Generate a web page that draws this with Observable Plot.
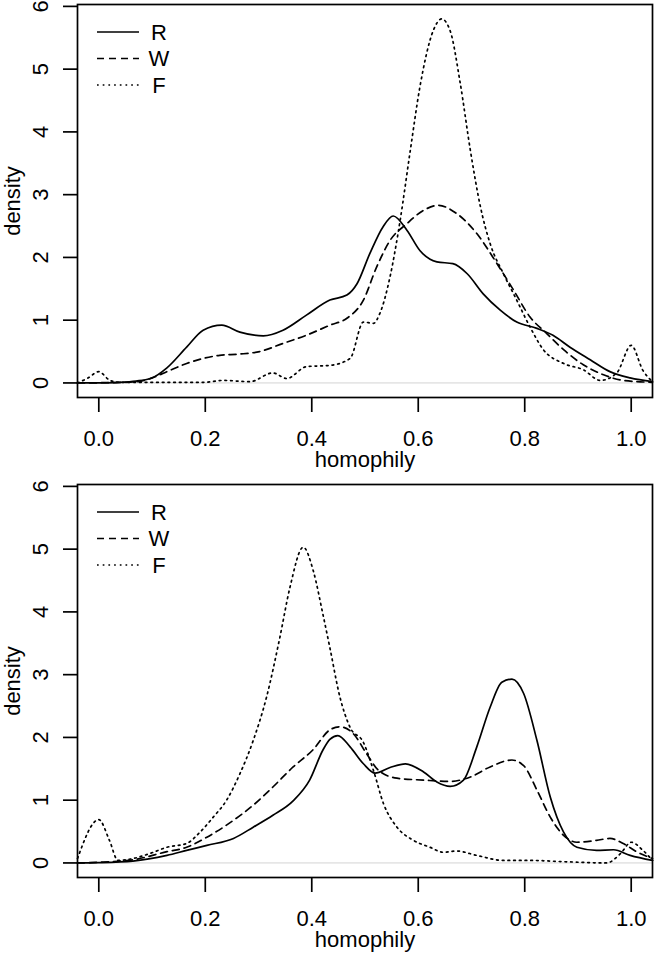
<!DOCTYPE html>
<html>
<head>
<meta charset="utf-8">
<script src="https://cdn.jsdelivr.net/npm/d3@7"></script>
<script src="https://cdn.jsdelivr.net/npm/@observablehq/plot@0.6"></script>
<style>
  html, body { margin: 0; padding: 0; background: white; }
  #charts svg { display: block; }
  #charts svg text { font-family: 'Liberation Sans', Arial, Helvetica, sans-serif !important; }
</style>
</head>
<body>
<div id="charts"></div>
<script>
// ---- axis ticks ----
const xTicks = [0, 0.2, 0.4, 0.6, 0.8, 1.0];
const yTicks = [0, 1, 2, 3, 4, 5, 6];
const xDomain = [-0.04, 1.04];
const yDomain = [-0.232, 6.03];
const seriesNames = ["R", "W", "F"];
const xLabel = "homophily";
const yLabel = "density";

// ---- top panel ----
const top_R_x = [-0.04, 0.0, 0.04, 0.07, 0.1, 0.128, 0.165, 0.196, 0.231, 0.265, 0.309, 0.346, 0.39, 0.434, 0.466, 0.485, 0.509, 0.534, 0.553, 0.579, 0.603, 0.635, 0.665, 0.692, 0.722, 0.754, 0.785, 0.823, 0.853, 0.885, 0.923, 0.96, 0.998, 1.04];
const top_R_y = [0, 0.002, 0.01, 0.03, 0.08, 0.24, 0.57, 0.84, 0.92, 0.81, 0.75, 0.84, 1.08, 1.32, 1.40, 1.58, 2.06, 2.49, 2.66, 2.43, 2.11, 1.93, 1.90, 1.74, 1.42, 1.16, 0.97, 0.87, 0.76, 0.57, 0.37, 0.18, 0.08, 0.02];

const top_W_x = [-0.04, 0.0, 0.05, 0.08, 0.1, 0.128, 0.165, 0.196, 0.227, 0.265, 0.302, 0.346, 0.39, 0.434, 0.466, 0.497, 0.522, 0.547, 0.579, 0.61, 0.638, 0.672, 0.71, 0.748, 0.779, 0.81, 0.841, 0.873, 0.91, 0.948, 0.985, 1.04];
const top_W_y = [0, 0.003, 0.01, 0.03, 0.08, 0.18, 0.31, 0.39, 0.44, 0.46, 0.50, 0.63, 0.76, 0.92, 1.03, 1.32, 1.85, 2.27, 2.54, 2.75, 2.83, 2.70, 2.38, 1.90, 1.48, 1.05, 0.79, 0.53, 0.29, 0.13, 0.04, 0.01];

const top_F_x = [-0.04, -0.02, 0.0, 0.021, 0.04, 0.1, 0.196, 0.234, 0.284, 0.327, 0.353, 0.39, 0.434, 0.472, 0.497, 0.516, 0.528, 0.547, 0.566, 0.585, 0.603, 0.628, 0.644, 0.66, 0.679, 0.698, 0.717, 0.735, 0.76, 0.785, 0.81, 0.835, 0.873, 0.91, 0.942, 0.973, 1.0, 1.022, 1.04];
const top_F_y = [0, 0.08, 0.18, 0.04, 0.01, 0.01, 0.01, 0.04, 0.02, 0.16, 0.07, 0.26, 0.28, 0.39, 0.97, 0.95, 1.11, 1.69, 2.59, 3.70, 4.71, 5.61, 5.80, 5.61, 4.77, 3.70, 2.80, 2.22, 1.74, 1.32, 0.89, 0.53, 0.31, 0.21, 0.04, 0.16, 0.60, 0.20, 0.02];

// ---- bottom panel ----
const bot_R_x = [-0.04, 0.0, 0.064, 0.128, 0.165, 0.203, 0.253, 0.29, 0.327, 0.365, 0.396, 0.421, 0.434, 0.449, 0.472, 0.497, 0.519, 0.547, 0.576, 0.61, 0.635, 0.66, 0.685, 0.71, 0.735, 0.757, 0.776, 0.798, 0.823, 0.848, 0.873, 0.898, 0.935, 0.967, 0.998, 1.04];
const bot_R_y = [0, 0.005, 0.03, 0.12, 0.20, 0.28, 0.39, 0.57, 0.76, 0.99, 1.32, 1.80, 1.97, 2.03, 1.85, 1.58, 1.43, 1.52, 1.58, 1.45, 1.29, 1.22, 1.32, 1.85, 2.48, 2.88, 2.93, 2.70, 1.95, 1.05, 0.49, 0.25, 0.20, 0.21, 0.12, 0.04];

const bot_W_x = [-0.04, 0.0, 0.064, 0.128, 0.165, 0.203, 0.253, 0.29, 0.327, 0.365, 0.402, 0.434, 0.453, 0.478, 0.503, 0.525, 0.56, 0.61, 0.66, 0.698, 0.735, 0.776, 0.798, 0.823, 0.848, 0.873, 0.898, 0.935, 0.96, 0.985, 1.01, 1.04];
const bot_W_y = [0, 0.01, 0.05, 0.18, 0.25, 0.41, 0.68, 0.92, 1.21, 1.53, 1.80, 2.12, 2.17, 2.06, 1.74, 1.48, 1.35, 1.32, 1.30, 1.37, 1.53, 1.64, 1.55, 1.16, 0.73, 0.44, 0.33, 0.36, 0.39, 0.31, 0.18, 0.07];

const bot_F_x = [-0.04, 0.0, 0.02, 0.036, 0.064, 0.096, 0.128, 0.165, 0.19, 0.215, 0.24, 0.265, 0.29, 0.315, 0.34, 0.359, 0.384, 0.403, 0.421, 0.434, 0.453, 0.472, 0.497, 0.516, 0.535, 0.56, 0.591, 0.622, 0.647, 0.672, 0.71, 0.76, 0.81, 0.873, 0.954, 0.98, 1.0, 1.022, 1.04];
const bot_F_y = [0.07, 0.69, 0.36, 0.04, 0.07, 0.15, 0.25, 0.31, 0.49, 0.73, 1.00, 1.42, 1.95, 2.64, 3.59, 4.39, 5.03, 4.65, 3.96, 3.43, 2.64, 2.16, 1.92, 1.47, 0.94, 0.57, 0.36, 0.25, 0.17, 0.19, 0.12, 0.04, 0.04, 0.02, 0.0, 0.15, 0.33, 0.20, 0.04];

// ---- styles ----
const FONT = "'Liberation Sans', Arial, Helvetica, sans-serif";
const FS = 22;
const LW = 1.7;
const dashes = { R: null, W: "7,5", F: "1.7,4" };

function toRows(xs, ys) { return xs.map((x, i) => ({ x, y: ys[i] })); }

function panel(sets) {
  const lineMarks = seriesNames.map(name =>
    Plot.line(toRows(sets[name][0], sets[name][1]), {
      x: "x", y: "y", stroke: "black", strokeWidth: LW,
      strokeDasharray: dashes[name] || undefined, curve: "monotone-x"
    })
  );
  const svg = Plot.plot({
    width: 655, height: 480,
    marginLeft: 77, marginRight: 3, marginTop: 4, marginBottom: 83,
    x: { domain: xDomain, label: null },
    y: { domain: yDomain, label: null },
    style: { fontFamily: FONT, fontSize: FS + "px", color: "black", background: "white", overflow: "visible" },
    marks: [
      Plot.ruleY([0], { stroke: "#c8c8c8", strokeWidth: 0.8 }),
      ...lineMarks,
      Plot.frame({ stroke: "black", strokeWidth: LW }),
      Plot.axisX({ ticks: xTicks, tickSize: 15, tickPadding: 18, tickFormat: d3.format(".1f"), strokeWidth: LW, label: null, fontSize: FS }),
      Plot.axisY({ ticks: yTicks, tickSize: 14, tickPadding: 16, tickRotate: -90, tickFormat: d3.format("d"), strokeWidth: LW, label: null, fontSize: FS }),
      Plot.text([xLabel], { frameAnchor: "bottom", textAnchor: "middle", dy: 69, fontSize: FS }),
      Plot.text([yLabel], { frameAnchor: "left", textAnchor: "middle", dx: -65, rotate: -90, fontSize: FS })
    ]
  });
  // legend (inside plot region, top-left)
  const g = d3.select(svg).append("g").attr("font-family", FONT).attr("font-size", FS);
  seriesNames.forEach((name, i) => {
    const yy = 32 + i * 26.5;
    g.append("line").attr("x1", 97).attr("x2", 139).attr("y1", yy).attr("y2", yy)
      .attr("stroke", "black").attr("stroke-width", LW)
      .attr("stroke-dasharray", dashes[name]);
    g.append("text").attr("x", 159).attr("y", yy).attr("dy", "0.36em").attr("fill", "black").text(name);
  });
  return svg;
}

const root = document.getElementById("charts");
root.appendChild(panel({ R: [top_R_x, top_R_y], W: [top_W_x, top_W_y], F: [top_F_x, top_F_y] }));
root.appendChild(panel({ R: [bot_R_x, bot_R_y], W: [bot_W_x, bot_W_y], F: [bot_F_x, bot_F_y] }));
</script>
</body>
</html>
